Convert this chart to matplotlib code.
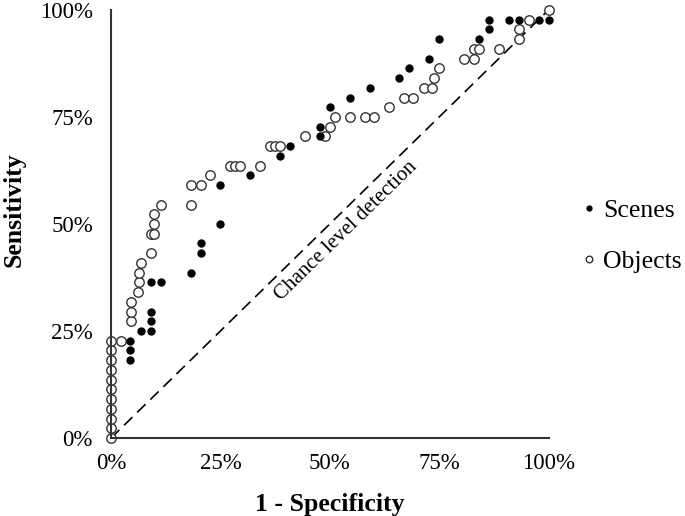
import matplotlib.pyplot as plt
from matplotlib.ticker import PercentFormatter

plt.rcParams['font.family'] = ['Liberation Serif', 'DejaVu Serif']

# ROC points (1 - specificity, sensitivity)
scenes_x = [0.043, 0.043, 0.043, 0.068, 0.091, 0.091, 0.091, 0.091, 0.114, 0.182,
            0.205, 0.205, 0.25, 0.25, 0.318, 0.386, 0.409, 0.477, 0.477, 0.5,
            0.545, 0.591, 0.659, 0.682, 0.727, 0.75, 0.841, 0.864, 0.864, 0.909,
            0.932, 0.977, 1.0]
scenes_y = [0.182, 0.205, 0.227, 0.25, 0.25, 0.273, 0.295, 0.364, 0.364, 0.386,
            0.432, 0.455, 0.5, 0.591, 0.614, 0.659, 0.682, 0.705, 0.727, 0.773,
            0.795, 0.818, 0.841, 0.864, 0.886, 0.932, 0.932, 0.955, 0.977, 0.977,
            0.977, 0.977, 0.977]

objects_x = [0, 0, 0, 0, 0, 0, 0, 0, 0, 0, 0,
             0.023, 0.045, 0.045, 0.045, 0.061, 0.064, 0.064, 0.068, 0.091, 0.091,
             0.098, 0.098, 0.098, 0.114, 0.182, 0.182, 0.205, 0.227, 0.273, 0.284,
             0.295, 0.341, 0.364, 0.375, 0.386, 0.443, 0.489, 0.5, 0.511, 0.545,
             0.58, 0.6, 0.636, 0.67, 0.69, 0.716, 0.733, 0.739, 0.75, 0.807,
             0.83, 0.83, 0.841, 0.886, 0.932, 0.932, 0.955, 1.0]
objects_y = [0.0, 0.023, 0.045, 0.068, 0.091, 0.114, 0.136, 0.159, 0.182, 0.205, 0.227,
             0.227, 0.273, 0.295, 0.318, 0.341, 0.364, 0.386, 0.409, 0.432, 0.477,
             0.477, 0.5, 0.523, 0.545, 0.545, 0.591, 0.591, 0.614, 0.636, 0.636,
             0.636, 0.636, 0.682, 0.682, 0.682, 0.705, 0.705, 0.727, 0.75, 0.75,
             0.75, 0.75, 0.773, 0.795, 0.795, 0.818, 0.818, 0.841, 0.864, 0.886,
             0.886, 0.909, 0.909, 0.909, 0.932, 0.955, 0.977, 1.0]

ticks = [0, 0.25, 0.5, 0.75, 1.0]

fig = plt.figure(figsize=(6.85, 5.16), dpi=100)
ax = fig.add_axes([0.162, 0.151, 0.639, 0.830])

ax.plot([0, 1], [0, 1], color='black', lw=1.2, dashes=(7, 4), zorder=1)

ax.plot(scenes_x, scenes_y, 'o', ms=5, color='black', ls='none',
        clip_on=False, zorder=3, label='Scenes')
ax.plot(objects_x, objects_y, 'o', ms=6.8, mfc='white', mec='#333333', mew=1.0,
        ls='none', clip_on=False, zorder=2, label='Objects')

ax.text(0.537, 0.484, 'Chance level detection', rotation=44.35,
        rotation_mode='anchor', ha='center', va='center', fontsize=15)

ax.set_xlim(0, 1)
ax.set_ylim(0, 1)
ax.set_xticks(ticks)
ax.set_yticks(ticks)
ax.xaxis.set_major_formatter(PercentFormatter(1.0, decimals=0))
ax.yaxis.set_major_formatter(PercentFormatter(1.0, decimals=0))
ax.tick_params(length=0, labelsize=16.5)
ax.tick_params(axis='y', pad=13)
ax.tick_params(axis='x', pad=11)
for s in ['top', 'right']:
    ax.spines[s].set_visible(False)
for s in ['left', 'bottom']:
    ax.spines[s].set_color('#333333')
    ax.spines[s].set_linewidth(1.5)

ax.set_xlabel('1 - Specificity', fontsize=18.5, fontweight='bold', labelpad=13.5)
ax.set_ylabel('Sensitivity', fontsize=18.5, fontweight='bold')
ax.yaxis.set_label_coords(-0.196, 0.533)

ax.legend(loc='center left', bbox_to_anchor=(1.022, 0.472), frameon=False,
          fontsize=18.5, markerscale=0.7, handlelength=0.6, handletextpad=0.24,
          labelspacing=1.08)

fig.savefig('out.png', dpi=100)
